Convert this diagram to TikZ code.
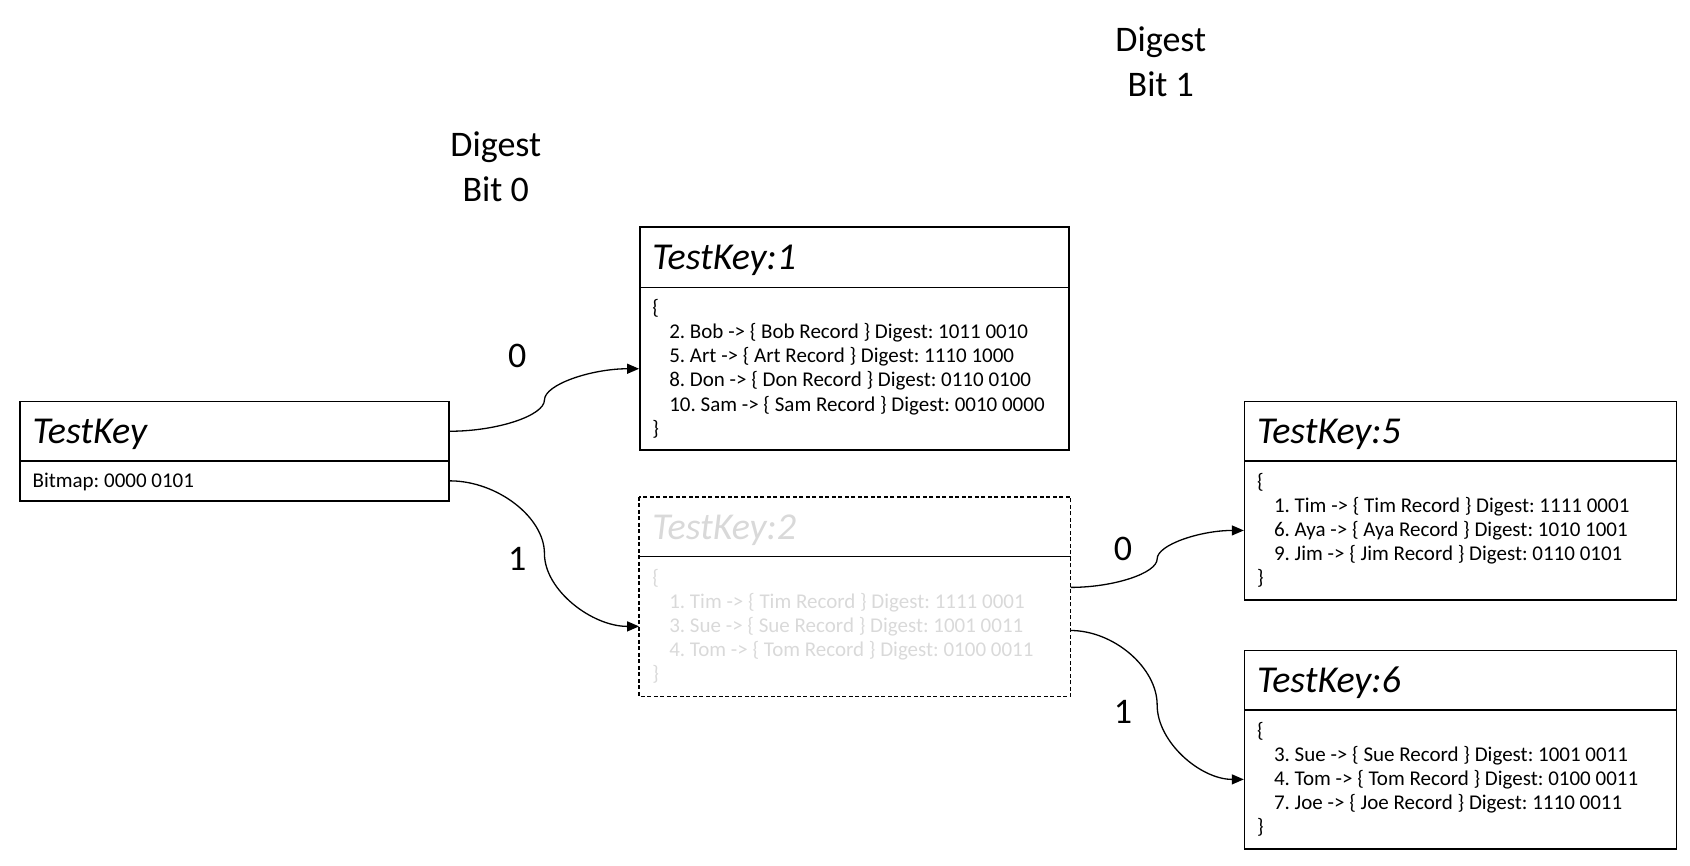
\documentclass[tikz,border=0pt]{standalone}
\usepackage{fontspec}
\setmainfont{Carlito}
\usetikzlibrary{arrows.meta,calc}
\definecolor{ghostgray}{RGB}{217,217,217}
\frenchspacing
\newcommand\curvelink[2]{%
  \draw[conn] let \p1=(#1), \p2=(#2) in
   (\p1) .. controls ({0.75*\x1+0.25*\x2},\y1) and ({0.5*\x1+0.5*\x2},{0.75*\y1+0.25*\y2}) ..
   ({0.5*\x1+0.5*\x2},{0.5*\y1+0.5*\y2}) .. controls ({0.5*\x1+0.5*\x2},{0.25*\y1+0.75*\y2}) and ({0.25*\x1+0.75*\x2},\y2) .. (\p2);}
\newcommand\ind{\hspace*{17pt}}
\begin{document}
\frenchspacing
\begin{tikzpicture}[x=1pt,y=-1pt,
  row/.style={draw, line width=1.4pt, inner sep=0pt, anchor=north west},
  ghostrow/.style={draw=none, inner sep=0pt, anchor=north west},
  ttl/.style={anchor=base west, inner sep=0pt, font=\fontsize{38}{44}\selectfont\itshape},
  bdy/.style={anchor=west, inner sep=0pt, align=left, font=\fontsize{21}{24.1}\selectfont},
  lbl/.style={inner sep=0pt, font=\fontsize{36}{45}\selectfont, align=center},
  conn/.style={line width=1.3pt, -{Triangle[length=12pt,width=10pt]}}]
\useasboundingbox (0,0) rectangle (1690,866);

% TestKey
\node[row, minimum width=429pt, minimum height=59.3pt] (tkT) at (19.4,400.9) {};
\node[row, minimum width=429pt, minimum height=39.9pt] (tkB) at (19.4,460.2) {};
\node[ttl] (tkTt) at ($(tkT.west)+(13,12.5)$) {TestKey};
\node[bdy] (tkBt) at ($(tkB.west)+(13,1)$) {Bitmap: 0000 0101};

% TestKey:1
\node[row, minimum width=429pt, minimum height=60.4pt] (t1T) at (639.1,226.3) {};
\node[row, minimum width=429pt, minimum height=162.7pt] (t1B) at (639.1,286.7) {};
\node[ttl] (t1Tt) at ($(t1T.west)+(13,12.5)$) {TestKey:1};
\node[bdy] (t1Bt) at ($(t1B.west)+(13,0)$) {\{\\
\ind 2. Bob -> \{ Bob Record \} Digest: 1011 0010\\
\ind 5. Art -> \{ Art Record \} Digest: 1110 1000\\
\ind 8. Don -> \{ Don Record \} Digest: 0110 0100\\
\ind 10. Sam -> \{ Sam Record \} Digest: 0010 0000\\
\}};

% TestKey:2 (ghost)
\node[ghostrow, minimum width=431pt, minimum height=59.2pt] (t2T) at (639.1,496.9) {};
\node[ghostrow, minimum width=431pt, minimum height=140.2pt] (t2B) at (639.1,556.1) {};
\draw[line width=1.3pt, dash pattern=on 4pt off 2.5pt] (t2T.north west) rectangle (t2B.south east);
\draw[line width=1.4pt] (t2T.south west) -- (t2T.south east);
\node[ttl, text=ghostgray] (t2Tt) at ($(t2T.west)+(13,12.5)$) {TestKey:2};
\node[bdy, text=ghostgray] (t2Bt) at ($(t2B.west)+(13,0)$) {\{\\
\ind 1. Tim -> \{ Tim Record \} Digest: 1111 0001\\
\ind 3. Sue -> \{ Sue Record \} Digest: 1001 0011\\
\ind 4. Tom -> \{ Tom Record \} Digest: 0100 0011\\
\}};
\coordinate (t2o0) at ($(t2B.north east)+(0,31.3)$);
\coordinate (t2o1) at ($(t2B.north east)+(0,74.4)$);

% TestKey:5
\node[row, minimum width=432pt, minimum height=59.3pt] (t5T) at (1243.8,400.9) {};
\node[row, minimum width=432pt, minimum height=139.1pt] (t5B) at (1243.8,460.2) {};
\node[ttl] (t5Tt) at ($(t5T.west)+(13,12.5)$) {TestKey:5};
\node[bdy] (t5Bt) at ($(t5B.west)+(13,0)$) {\{\\
\ind 1. Tim -> \{ Tim Record \} Digest: 1111 0001\\
\ind 6. Aya -> \{ Aya Record \} Digest: 1010 1001\\
\ind 9. Jim -> \{ Jim Record \} Digest: 0110 0101\\
\}};

% TestKey:6
\node[row, minimum width=432pt, minimum height=59.3pt] (t6T) at (1243.8,649.9) {};
\node[row, minimum width=432pt, minimum height=139pt] (t6B) at (1243.8,709.2) {};
\node[ttl] (t6Tt) at ($(t6T.west)+(13,12.5)$) {TestKey:6};
\node[bdy] (t6Bt) at ($(t6B.west)+(13,0)$) {\{\\
\ind 3. Sue -> \{ Sue Record \} Digest: 1001 0011\\
\ind 4. Tom -> \{ Tom Record \} Digest: 0100 0011\\
\ind 7. Joe -> \{ Joe Record \} Digest: 1110 0011\\
\}};

% headings
\node[lbl] (h0) at (495.8,166.5) {Digest\\Bit 0};
\node[lbl] (h1) at (1160.8,62) {Digest\\Bit 1};

% connectors
\curvelink{tkT.east}{t1B.west}
\curvelink{tkB.east}{t2B.west}
\curvelink{t2o0}{t5B.west}
\curvelink{t2o1}{t6B.west}

% edge labels
\node[lbl] (e0) at (517.3,355.7) {0};
\node[lbl] (e1) at (517.3,559.4) {1};
\node[lbl] (e2) at (1123,548.6) {0};
\node[lbl] (e3) at (1123,712.4) {1};
\end{tikzpicture}
\end{document}
